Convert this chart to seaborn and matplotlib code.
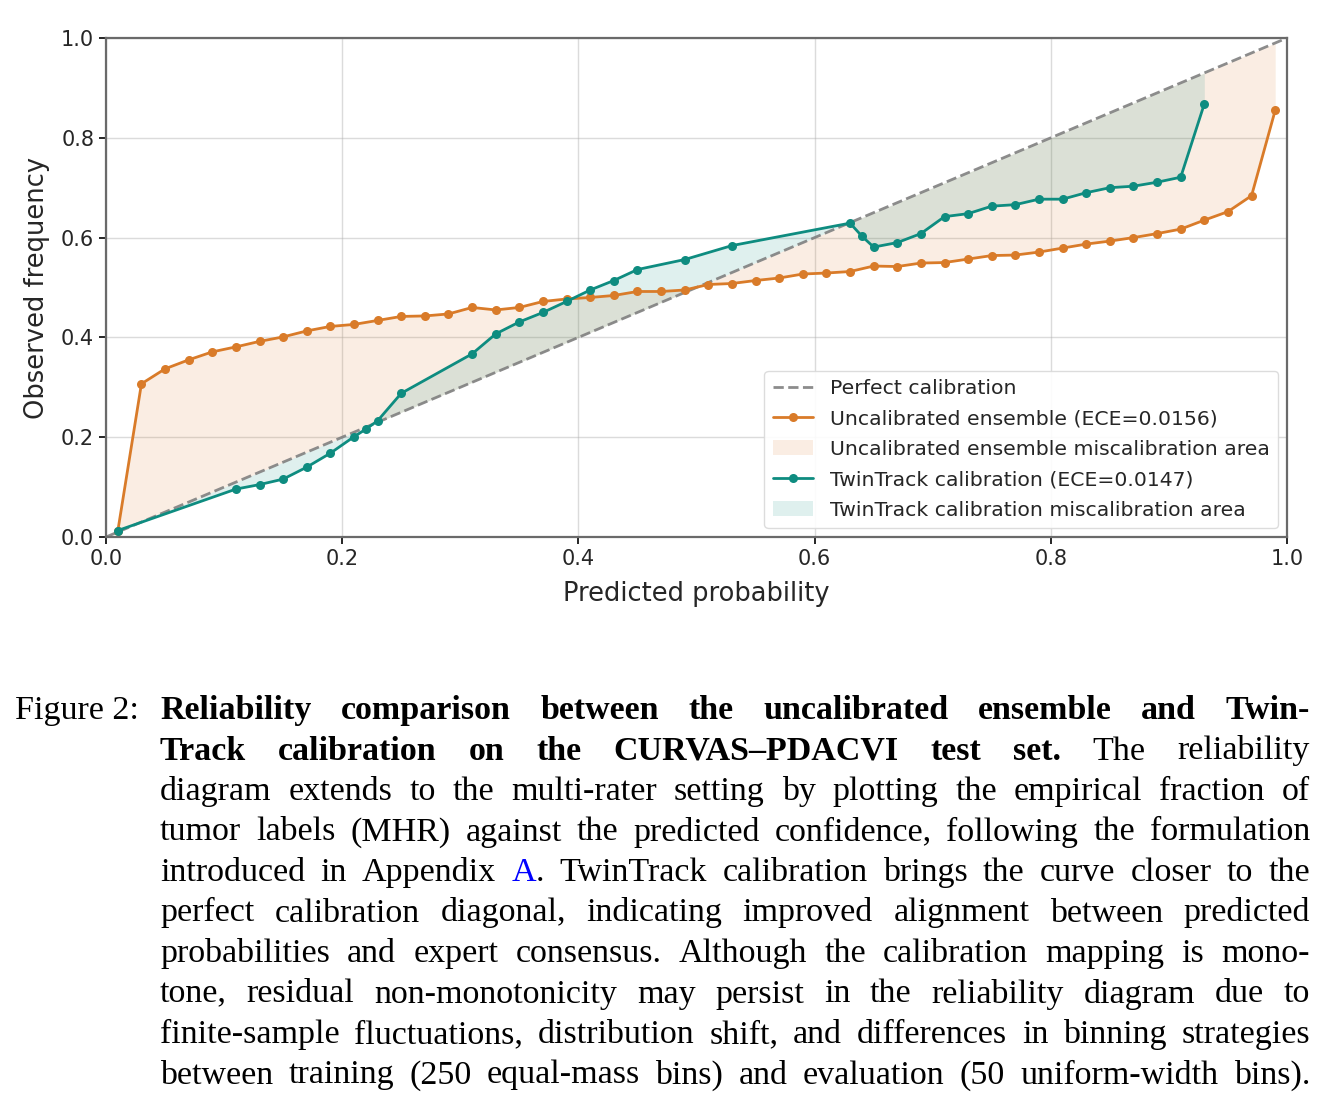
import numpy as np
import pandas as pd
import matplotlib
matplotlib.use("Agg")
import matplotlib.pyplot as plt
import seaborn as sns
from matplotlib.lines import Line2D
from matplotlib.patches import Patch

# ---------------- data ----------------
x_uncal = [0.01, 0.03, 0.05, 0.07, 0.09, 0.11, 0.13, 0.15, 0.17, 0.19,
           0.21, 0.23, 0.25, 0.27, 0.29, 0.31, 0.33, 0.35, 0.37, 0.39,
           0.41, 0.43, 0.45, 0.47, 0.49, 0.51, 0.53, 0.55, 0.57, 0.59,
           0.61, 0.63, 0.65, 0.67, 0.69, 0.71, 0.73, 0.75, 0.77, 0.79,
           0.81, 0.83, 0.85, 0.87, 0.89, 0.91, 0.93, 0.95, 0.97, 0.99]
y_uncal = [0.012, 0.307, 0.337, 0.355, 0.371, 0.381, 0.392, 0.401, 0.413, 0.422,
           0.426, 0.434, 0.442, 0.443, 0.447, 0.460, 0.455, 0.460, 0.472, 0.477,
           0.480, 0.484, 0.492, 0.492, 0.495, 0.506, 0.508, 0.514, 0.519, 0.527,
           0.529, 0.532, 0.543, 0.542, 0.549, 0.550, 0.557, 0.564, 0.565, 0.571,
           0.579, 0.587, 0.593, 0.600, 0.608, 0.617, 0.635, 0.652, 0.684, 0.855]

x_twin = [0.01, 0.11, 0.13, 0.15, 0.17, 0.19, 0.21, 0.22, 0.23, 0.25,
          0.31, 0.33, 0.35, 0.37, 0.39, 0.41, 0.43, 0.45, 0.49, 0.53,
          0.63, 0.64, 0.65, 0.67, 0.69, 0.71, 0.73, 0.75, 0.77, 0.79,
          0.81, 0.83, 0.85, 0.87, 0.89, 0.91, 0.93]
y_twin = [0.013, 0.096, 0.105, 0.116, 0.140, 0.168, 0.201, 0.216, 0.233, 0.288,
          0.367, 0.407, 0.431, 0.450, 0.472, 0.495, 0.514, 0.536, 0.556, 0.584,
          0.629, 0.603, 0.581, 0.590, 0.608, 0.642, 0.648, 0.663, 0.666, 0.677,
          0.677, 0.690, 0.700, 0.703, 0.711, 0.721, 0.868]

diag = [0.0, 1.0]

labels = {
    "perfect": "Perfect calibration",
    "uncal": "Uncalibrated ensemble (ECE=0.0156)",
    "uncal_area": "Uncalibrated ensemble miscalibration area",
    "twin": "TwinTrack calibration (ECE=0.0147)",
    "twin_area": "TwinTrack calibration miscalibration area",
}
x_label = "Predicted probability"
y_label = "Observed frequency"

ORANGE = "#D97B29"
TEAL = "#0E8C80"

# ---------------- style ----------------
sns.set_style("white")
plt.rcParams["font.family"] = ["DejaVu Sans"]

W, H = 1327, 1118
fig = plt.figure(figsize=(W / 100, H / 100), dpi=100)
ax = fig.add_axes([106 / W, 1 - 537 / H, (1287 - 106) / W, (537 - 38) / H])

df_u = pd.DataFrame({"x": x_uncal, "y": y_uncal})
df_t = pd.DataFrame({"x": x_twin, "y": y_twin})

ax.plot(diag, diag, linestyle="--", color="gray", linewidth=2, alpha=0.9, zorder=2)
ax.fill_between(df_u["x"], df_u["y"], df_u["x"], color=ORANGE, alpha=0.13, linewidth=0, zorder=1)
ax.fill_between(df_t["x"], df_t["y"], df_t["x"], color=TEAL, alpha=0.13, linewidth=0, zorder=1)
sns.lineplot(data=df_u, x="x", y="y", ax=ax, color=ORANGE, marker="o", markersize=6.5,
             markeredgewidth=0, linewidth=2, errorbar=None, sort=False, zorder=3)
sns.lineplot(data=df_t, x="x", y="y", ax=ax, color=TEAL, marker="o", markersize=6.5,
             markeredgewidth=0, linewidth=2, errorbar=None, sort=False, zorder=4)

ax.set_xlim(0, 1)
ax.set_ylim(0, 1)
ax.set_xticks([0.0, 0.2, 0.4, 0.6, 0.8, 1.0])
ax.set_yticks([0.0, 0.2, 0.4, 0.6, 0.8, 1.0])
ax.grid(True, color="#b0b0b0", alpha=0.45, linewidth=1.0)
ax.set_axisbelow(True)
for s in ax.spines.values():
    s.set_color("#6a6a6a")
    s.set_linewidth(1.6)
ax.tick_params(axis="both", which="major", length=5, width=1.2, color="black",
               labelsize=15, direction="out", bottom=True, left=True)
ax.set_xlabel(x_label, fontsize=18.5, labelpad=9)
ax.set_ylabel(y_label, fontsize=18.5, labelpad=8)

handles = [
    Line2D([], [], linestyle="--", color="gray", linewidth=2, alpha=0.9),
    Line2D([], [], color=ORANGE, marker="o", markersize=6.5, markeredgewidth=0, linewidth=2),
    Patch(facecolor=ORANGE, alpha=0.13, linewidth=0),
    Line2D([], [], color=TEAL, marker="o", markersize=6.5, markeredgewidth=0, linewidth=2),
    Patch(facecolor=TEAL, alpha=0.13, linewidth=0),
]
leg_labels = [labels["perfect"], labels["uncal"], labels["uncal_area"], labels["twin"], labels["twin_area"]]
ax.legend(handles, leg_labels, loc="lower right", fontsize=14.7, frameon=True,
          framealpha=0.9, edgecolor="0.85", labelspacing=0.56, borderaxespad=0.45)

# ---------------- caption ----------------
SERIF = ["Liberation Serif", "DejaVu Serif"]
CAP_SIZE = 24.5
N = {"fontweight": "normal", "color": "black"}
B = {"fontweight": "bold", "color": "black"}
BL = {"fontweight": "normal", "color": "#0000ff"}

def words(text, style):
    return [[(w, style)] for w in text.split(" ")]

caption_lines = [
    words("Reliability comparison between the uncalibrated ensemble and Twin-", B),
    words("Track calibration on the CURVAS\u2013PDACVI test set.", B) + words("The reliability", N),
    words("diagram extends to the multi-rater setting by plotting the empirical fraction of", N),
    words("tumor labels (MHR) against the predicted confidence, following the formulation", N),
    words("introduced in Appendix", N) + [[("A", BL), (".", N)]]
    + words("TwinTrack calibration brings the curve closer to the", N),
    words("perfect calibration diagonal, indicating improved alignment between predicted", N),
    words("probabilities and expert consensus. Although the calibration mapping is mono-", N),
    words("tone, residual non-monotonicity may persist in the reliability diagram due to", N),
    words("finite-sample fluctuations, distribution shift, and differences in binning strategies", N),
    words("between training (250 equal-mass bins) and evaluation (50 uniform-width bins).", N),
]

fig.canvas.draw()
renderer = fig.canvas.get_renderer()

def make_text(txt, style, x_px, y_px):
    return fig.text(x_px / W, 1 - y_px / H, txt, fontsize=CAP_SIZE, family=SERIF,
                    va="baseline", ha="left", **style)

make_text("Figure 2:", N, 15, 719)

X0, X1 = 160, 1310
base0, step = 719, 40.5
for i, line in enumerate(caption_lines):
    y = base0 + i * step
    word_objs = []
    word_w = []
    for w in line:
        segs = []
        tot = 0.0
        for txt, st in w:
            t = make_text(txt, st, 0, y)
            wd = t.get_window_extent(renderer=renderer).width
            segs.append((t, wd))
            tot += wd
        word_objs.append(segs)
        word_w.append(tot)
    gap = (X1 - X0 - sum(word_w)) / max(len(line) - 1, 1)
    x = X0
    for segs, tot in zip(word_objs, word_w):
        xx = x
        for t, wd in segs:
            t.set_x(xx / W)
            xx += wd
        x += tot + gap

fig.savefig("out.png", dpi=100)
